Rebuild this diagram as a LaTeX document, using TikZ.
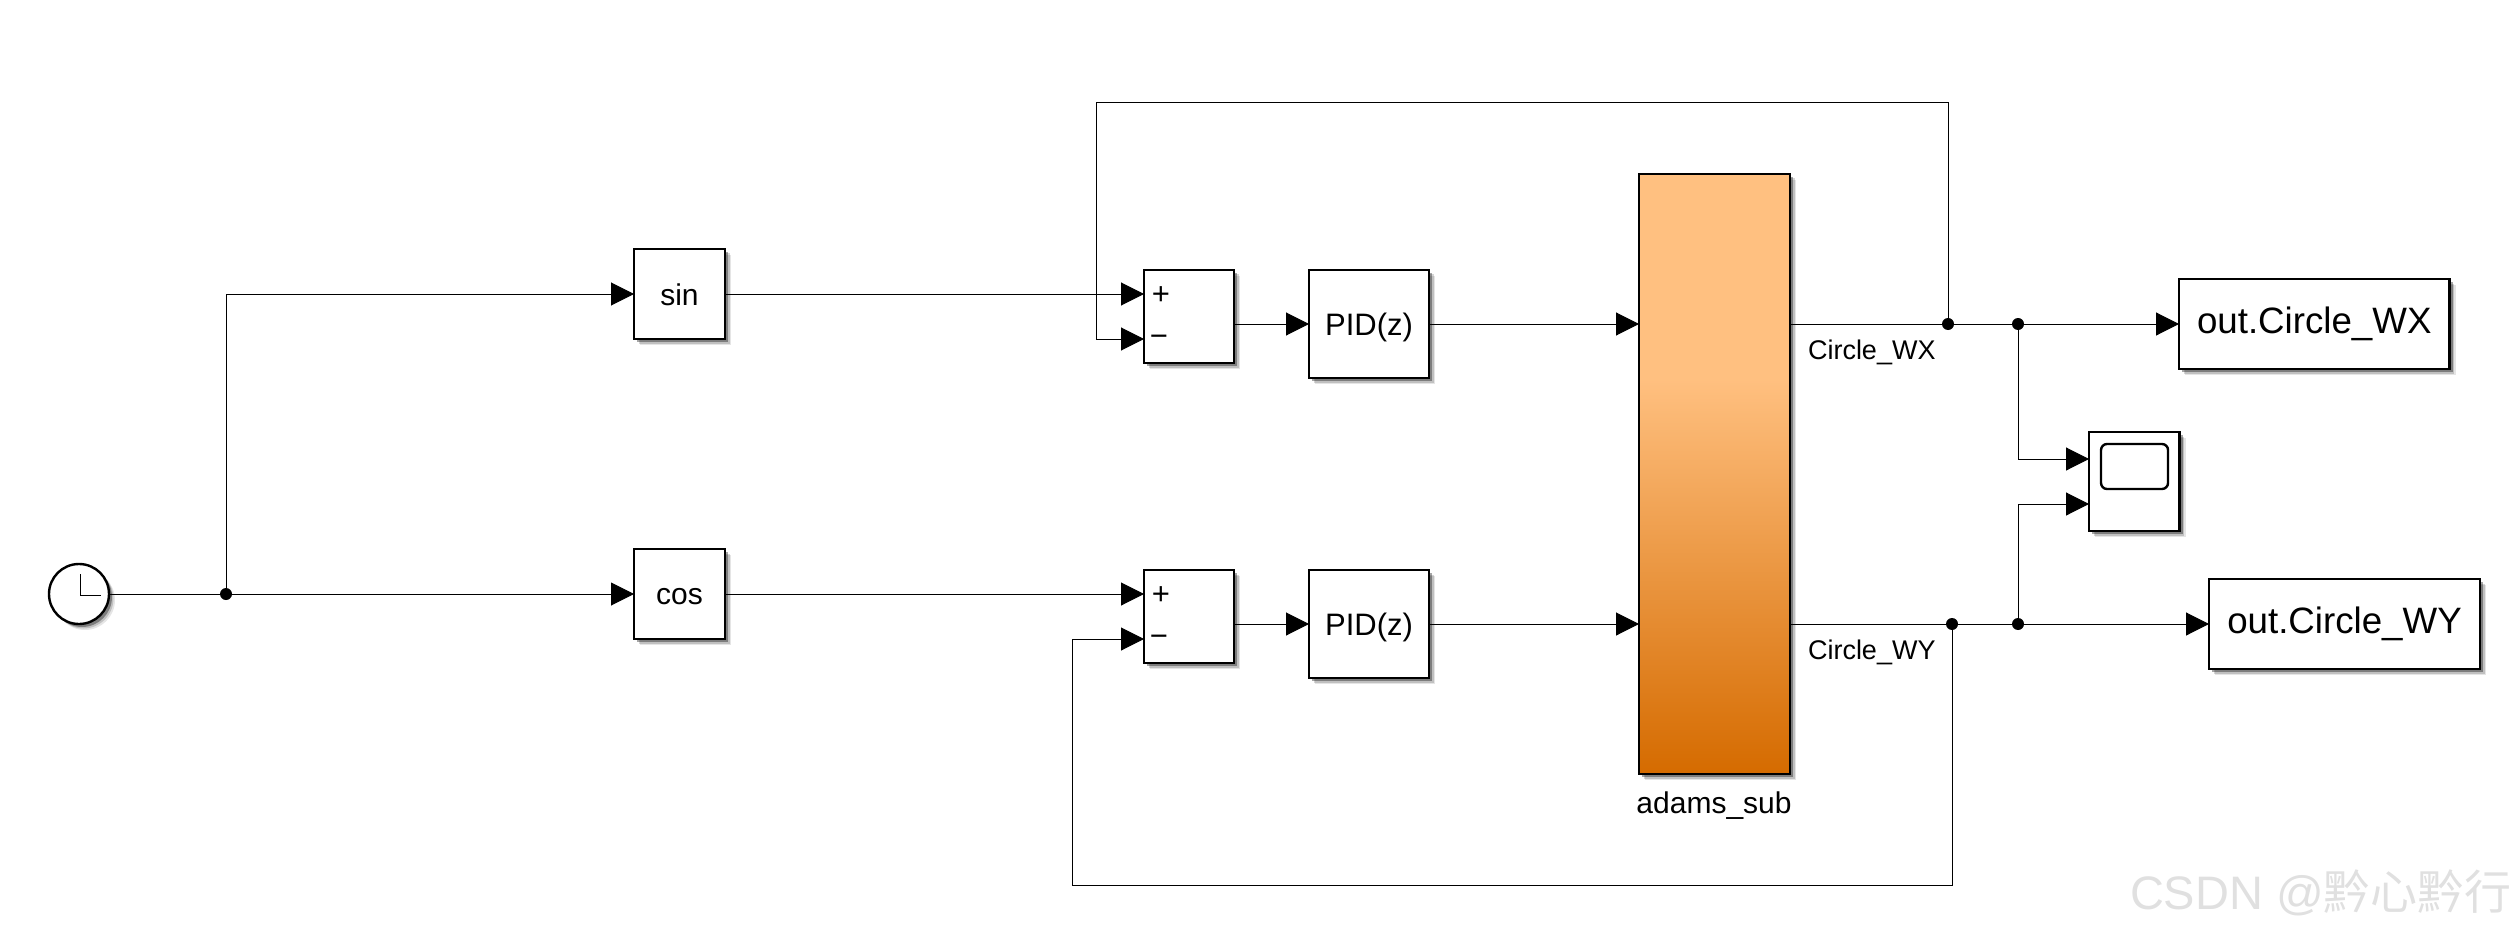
\documentclass[tikz,border=0pt]{standalone}
\usepackage{fontspec}
\setmainfont{Liberation Sans}
\newfontfamily\cjkfont{Noto Sans CJK SC}
\usetikzlibrary{arrows.meta,shadows}
\definecolor{orangeT}{RGB}{255,192,128}
\definecolor{orangeB}{RGB}{213,107,0}
\pgfdeclareverticalshading{adamsfill}{100bp}{
  color(0bp)=(orangeB); color(25bp)=(orangeB); color(58bp)=(orangeT); color(100bp)=(orangeT)}
\newcommand{\lowtext}[2]{\raisebox{-#1pt}[\height][\depth]{#2}}
\tikzset{
  x=1pt,y=-1pt,
  softshadow/.style={
    drop shadow={shadow xshift=6pt,shadow yshift=-6pt,opacity=.10,fill=black},
    drop shadow={shadow xshift=4.5pt,shadow yshift=-4.5pt,opacity=.16,fill=black},
    drop shadow={shadow xshift=3pt,shadow yshift=-3pt,opacity=.35,fill=black}},
  blk/.style={draw=black,line width=2.4pt,fill=white,rectangle,inner sep=0pt,outer sep=0pt,softshadow},
  wire/.style={draw=black,line width=1pt},
  arr/.style={wire,-{Triangle[length=23pt,width=23pt]}},
  dotj/.style={circle,fill=black,inner sep=0pt,minimum size=12pt,outer sep=0pt},
  port/.style={inner sep=0pt,outer sep=0pt,minimum size=0pt},
  big/.style={font=\fontsize{36.7}{40}\selectfont},
  mid/.style={font=\fontsize{30}{34}\selectfont},
  small/.style={font=\fontsize{27}{31}\selectfont},
  pidfont/.style={font=\fontsize{31}{35}\selectfont},
}
\begin{document}
\begin{tikzpicture}
\useasboundingbox (0,0) rectangle (2515,933);
% blocks
\node[blk,circle,minimum size=60pt] (clock) at (79,594) {};
\node[blk,minimum width=91pt,minimum height=90pt,mid] (sin) at (679.5,294) {\lowtext{1}{sin}};
\node[blk,minimum width=91pt,minimum height=90pt,mid] (cos) at (679.5,594) {\lowtext{3}{cos}};
\node[blk,minimum width=90pt,minimum height=93pt] (sum1) at (1189,316.5) {};
\node[blk,minimum width=90pt,minimum height=93pt] (sum2) at (1189,616.5) {};
\node[blk,minimum width=120pt,minimum height=108pt,pidfont] (pid1) at (1369,324) {\lowtext{3}{PID(z)}};
\node[blk,minimum width=120pt,minimum height=108pt,pidfont] (pid2) at (1369,624) {\lowtext{3}{PID(z)}};
\node[blk,shading=adamsfill,minimum width=151pt,minimum height=600pt] (adams) at (1714.5,474) {};
\node[blk,minimum width=270.5pt,minimum height=90pt,big] (outx) at (2314.25,324) {out.Circle\_WX};
\node[blk,minimum width=271pt,minimum height=90pt,big] (outy) at (2344.5,624) {out.Circle\_WY};
\node[blk,minimum width=90.5pt,minimum height=99pt] (scope) at (2134.25,481.5) {};
\node[draw=black,line width=2.4pt,rounded corners=6pt,minimum width=67pt,minimum height=45pt,inner sep=0pt] (screen) at (2134.5,466.5) {};
% text labels
\node[port,mid] (adamslabel) at (1714,806) {adams\_sub};
\node[port,small,anchor=west] (wxlabel) at (1808,352) {Circle\_WX};
\node[port,small,anchor=west] (wylabel) at (1808,652) {Circle\_WY};
\node[port,pidfont] (p1) at (1161,296) {+};
\node[port,pidfont] (m1) at (1159,341) {\textminus};
\node[port,pidfont] (p2) at (1161,596) {+};
\node[port,pidfont] (m2) at (1159,641) {\textminus};
% clock hands
\coordinate (handtop) at (80,574);
\coordinate (handc) at (80,595);
\coordinate (handr) at (101,595);
\draw[wire] (handtop) -- (handc) -- (handr);
% junctions
\node[dotj] (j0) at (226,594) {};
\node[dotj] (jx1) at (1948,324) {};
\node[dotj] (jx2) at (2018,324) {};
\node[dotj] (jy1) at (1952,624) {};
\node[dotj] (jy2) at (2018,624) {};
% port coordinates
\coordinate (s1p) at (1144,294);
\coordinate (s1m) at (1144,339);
\coordinate (s2p) at (1144,594);
\coordinate (s2m) at (1144,639);
\coordinate (sc1) at (2089,459);
\coordinate (sc2) at (2089,504);
\coordinate (top) at (1096,103);
\coordinate (bot) at (1072,885);
% wires
\draw[wire] (clock) -- (j0);
\draw[arr] (j0) -- (cos.west);
\draw[arr] (j0) |- (sin.west);
\draw[arr] (sin.east) -- (s1p);
\draw[arr] (cos.east) -- (s2p);
\draw[arr] (sum1.east |- pid1.west) -- (pid1.west);
\draw[arr] (sum2.east |- pid2.west) -- (pid2.west);
\draw[arr] (pid1.east) -- (pid1.east -| adams.west);
\draw[arr] (pid2.east) -- (pid2.east -| adams.west);
\draw[wire] (adams.east |- jx1) -- (jx1) -- (jx2);
\draw[wire] (adams.east |- jy1) -- (jy1) -- (jy2);
\draw[arr] (jx2) -- (outx.west);
\draw[arr] (jy2) -- (outy.west);
\draw[arr] (jx2) |- (sc1);
\draw[arr] (jy2) |- (sc2);
\draw[arr] (jx1) |- (top) -- (top |- s1m) -- (s1m);
\draw[arr] (jy1) |- (bot) -- (bot |- s2m) -- (s2m);
% watermark
\node[port,anchor=west,text=black!12,font=\fontsize{47}{51}\selectfont] (wm) at (2130,893) {CSDN @{\cjkfont 黔心黔行}};
\end{tikzpicture}
\end{document}
